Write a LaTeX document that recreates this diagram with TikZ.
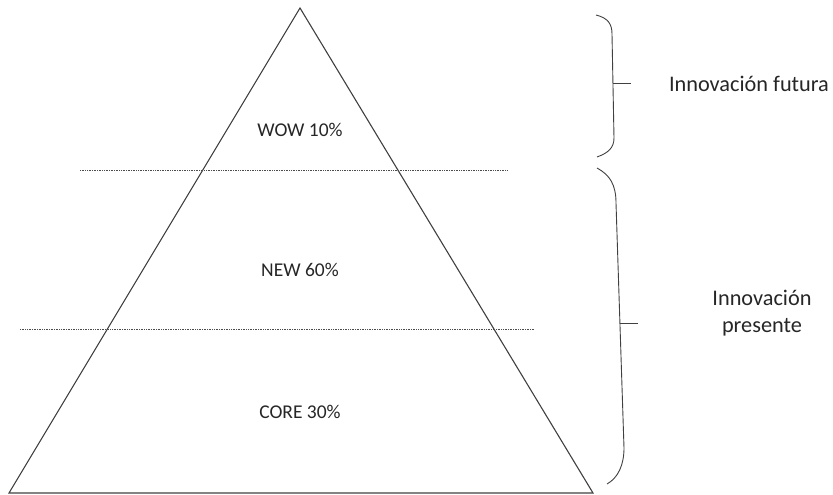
\documentclass[tikz,border=0pt]{standalone}
\usepackage{fontspec}
\setmainfont{Carlito}
\begin{document}
\begin{tikzpicture}[x=1pt,y=-1pt,
  edge/.style={draw=black!75, line width=1.1pt},
  dotline/.style={draw=black!70, line width=0.8pt, dash pattern=on 1pt off 0.7pt},
  bracket/.style={draw=black!75, line width=0.9pt},
  inner/.style={font=\fontsize{19.5}{23}\selectfont, text=black!85},
  side/.style={font=\fontsize{22.3}{27}\selectfont, text=black!85, align=center}]
\useasboundingbox (0,0) rectangle (833,495);
% pyramid
\coordinate (apex) at (300,8);
\coordinate (bl) at (9,493);
\coordinate (br) at (593,493);
\draw[edge] (apex) -- (br) -- (bl) -- cycle;
% dotted separators
\coordinate (d1a) at (80,170);
\coordinate (d1b) at (507,170);
\coordinate (d2a) at (20,329);
\coordinate (d2b) at (535,329);
\draw[dotline] (d1a) -- (d1b);
\draw[dotline] (d2a) -- (d2b);
% labels
\node[inner] (wow) at (300,130) {WOW 10\%};
\node[inner] (new) at (300,270) {NEW 60\%};
\node[inner] (core) at (300,412) {CORE 30\%};
% brackets
\draw[bracket] (596,15) .. controls (608,18) and (612,24) .. (612,34) -- (614,138) .. controls (614,148) and (608,153) .. (597,157);
\coordinate (t1a) at (613,83);
\coordinate (t1b) at (631,83);
\draw[bracket] (t1a) -- (t1b);
\draw[bracket] (597,168) .. controls (610,175) and (616,185) .. (616,203) -- (624,448) .. controls (624,465) and (618,478) .. (607,484);
\coordinate (t2a) at (620,323);
\coordinate (t2b) at (638,323);
\draw[bracket] (t2a) -- (t2b);
\node[side] (fut) at (749,84) {Innovación futura};
\node[side] (pres) at (762,313) {Innovación\\presente};
\end{tikzpicture}
\end{document}
